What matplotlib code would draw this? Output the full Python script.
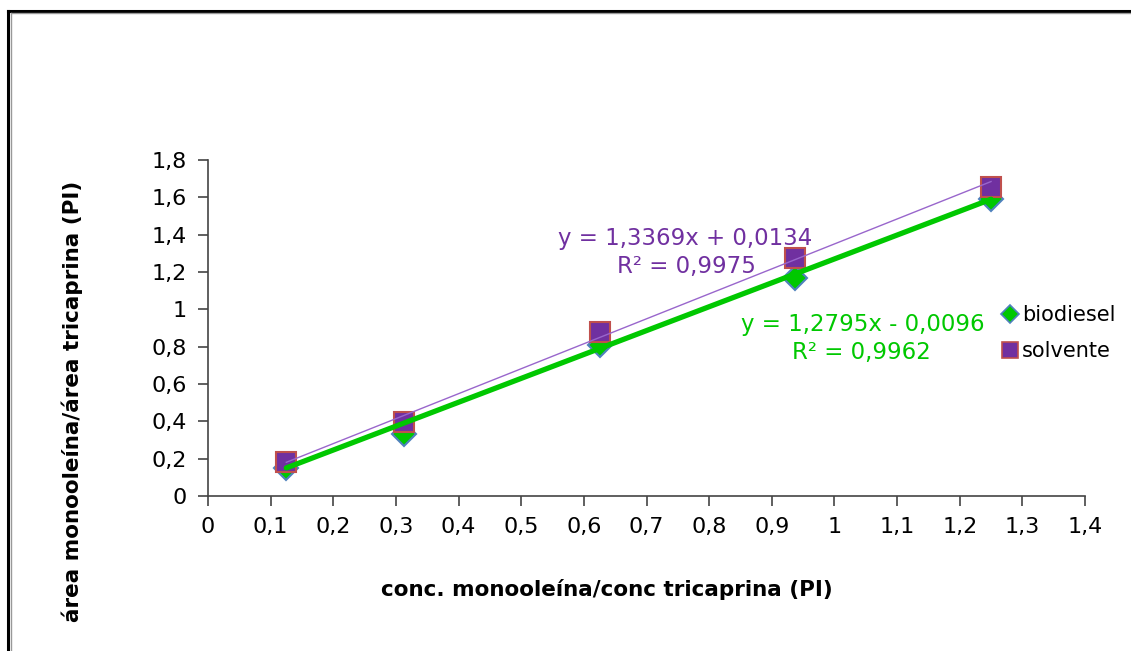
import numpy as np
import matplotlib.pyplot as plt
from matplotlib.lines import Line2D

plt.rcParams['font.family'] = ['DejaVu Sans']

# data
conc = [0.125, 0.3125, 0.625, 0.9375, 1.25]
biodiesel = [0.15, 0.33, 0.81, 1.17, 1.59]
solvente = [0.18, 0.395, 0.88, 1.275, 1.655]

# trendline coefficients as printed on the chart
fit_bio = (1.2795, -0.0096)
fit_solv = (1.3369, 0.0134)

x_ticks = [0, 0.1, 0.2, 0.3, 0.4, 0.5, 0.6, 0.7, 0.8, 0.9, 1, 1.1, 1.2, 1.3, 1.4]
y_ticks = [0, 0.2, 0.4, 0.6, 0.8, 1, 1.2, 1.4, 1.6, 1.8]

green = '#00C800'
purple = '#7030A0'
W, H = 1131, 651

fig = plt.figure(figsize=(W / 100, H / 100), dpi=100)
ax = fig.add_axes([208 / W, 1 - 496 / H, (1085 - 208) / W, (496 - 160) / H])

ax.plot(conc, biodiesel, linestyle='none', marker='D', markersize=12,
        markerfacecolor=green, markeredgecolor='#4F81BD', markeredgewidth=1.5, zorder=3)
ax.plot(conc, solvente, linestyle='none', marker='s', markersize=15,
        markerfacecolor=purple, markeredgecolor='#C0504D', markeredgewidth=1.5, zorder=4)

xs = np.array([conc[0], conc[-1]])
ax.plot(xs, fit_solv[0] * xs + fit_solv[1], color='#9966CC', lw=1.0, zorder=5)
ax.plot(xs, fit_bio[0] * xs + fit_bio[1], color=green, lw=3.8, zorder=6, solid_capstyle='round')

ax.set_xlim(0, 1.4)
ax.set_ylim(0, 1.8)
ax.set_xticks(x_ticks)
ax.set_yticks(y_ticks)
fmt = lambda v: ('%g' % v).replace('.', ',')
ax.set_xticklabels([fmt(v) for v in x_ticks])
ax.set_yticklabels([fmt(v) for v in y_ticks])
ax.tick_params(labelsize=16, direction='out', length=7, width=1.2, color='#444444', pad=8)
for s in ['top', 'right']:
    ax.spines[s].set_visible(False)
for s in ['left', 'bottom']:
    ax.spines[s].set_color('#444444')
    ax.spines[s].set_linewidth(1.2)

# equations
ax.text(685 / W, 1 - 239 / H, 'y = 1,3369x + 0,0134', transform=fig.transFigure,
        ha='center', va='center', fontsize=16.5, color=purple)
ax.text(686 / W, 1 - 267 / H, 'R² = 0,9975', transform=fig.transFigure,
        ha='center', va='center', fontsize=16.5, color=purple)
ax.text(863 / W, 1 - 324 / H, 'y = 1,2795x - 0,0096', transform=fig.transFigure,
        ha='center', va='center', fontsize=16.5, color=green)
ax.text(861 / W, 1 - 352 / H, 'R² = 0,9962', transform=fig.transFigure,
        ha='center', va='center', fontsize=16.5, color=green)

# axis titles
fig.text(607 / W, 1 - 590 / H, 'conc. monooleína/conc tricaprina (PI)',
         ha='center', va='center', fontsize=15.5, fontweight='bold')
fig.text(72 / W, 1 - 401 / H, 'área monooleína/área tricaprina (PI)', rotation=90,
         ha='center', va='center', fontsize=15.5, fontweight='bold')

# legend
handles = [
    Line2D([], [], linestyle='none', marker='D', markersize=9, markerfacecolor=green,
           markeredgecolor='#4F81BD', markeredgewidth=1.2),
    Line2D([], [], linestyle='none', marker='s', markersize=12, markerfacecolor=purple,
           markeredgecolor='#C0504D', markeredgewidth=1.2),
]
fig.legend(handles, ['biodiesel', 'solvente'], loc='center left',
           bbox_to_anchor=(994 / W, 1 - 333 / H), frameon=False, fontsize=15,
           handlelength=0.7, handletextpad=0.25, labelspacing=0.75, borderaxespad=0)

# outer frame (top and left edges)
fig.add_artist(Line2D([8 / W, 1], [1 - 11 / H, 1 - 11 / H], color='black', lw=2.2))
fig.add_artist(Line2D([8 / W, 8 / W], [0, 1 - 11 / H], color='black', lw=2.2))
fig.add_artist(Line2D([11 / W, 1], [1 - 13 / H, 1 - 13 / H], color='#999999', lw=1))
fig.add_artist(Line2D([11 / W, 11 / W], [0, 1 - 13 / H], color='#999999', lw=1))

fig.savefig('out.png', dpi=100)
